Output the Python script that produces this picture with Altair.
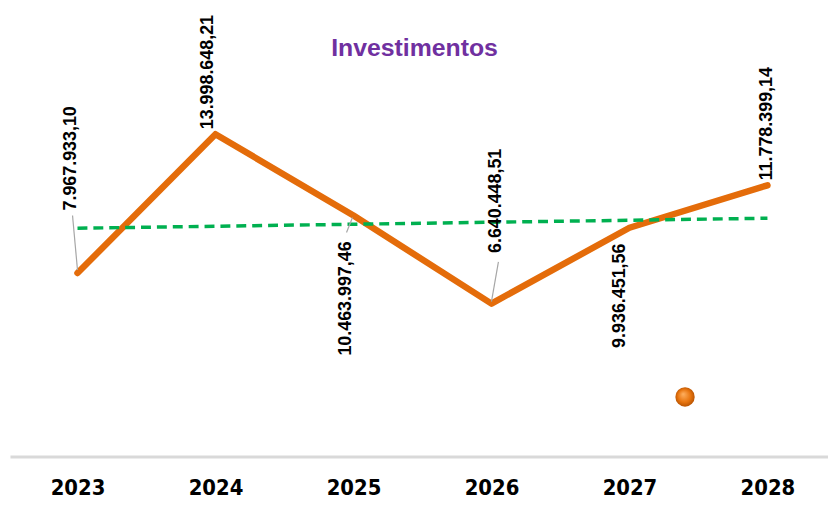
import altair as alt
import pandas as pd

# ---- data -------------------------------------------------------------
years = [2023, 2024, 2025, 2026, 2027, 2028]
values = [7967933.10, 13998648.21, 10463997.46, 6640448.51, 9936451.56, 11778399.14]
labels = ["7.967.933,10", "13.998.648,21", "10.463.997,46",
          "6.640.448,51", "9.936.451,56", "11.778.399,14"]
chart_title = "Investimentos"

df = pd.DataFrame({"year": years, "value": values, "label": labels})

# ---- layout / style -----------------------------------------------------
W, H = 824, 450
X_DOMAIN = [2022.5108, 2028.4388]
Y_DOMAIN = [0, 19400000]
PX_X = (X_DOMAIN[1] - X_DOMAIN[0]) / W       # years per pixel
PX_Y = (Y_DOMAIN[1] - Y_DOMAIN[0]) / H       # value per pixel

ORANGE = "#E46C0A"
GREEN = "#00B050"
PURPLE = "#7030A0"
LABEL_FONT = "Liberation Sans"
YEAR_FONT = "Liberation Sans Narrow, Arial Narrow, DejaVu Sans Condensed, Liberation Sans, sans-serif"

# label placement per year: (align, dx, dy) in the rotated text frame
label_style = {
    2023: ("left", 63, -6),
    2024: ("left", 5, -7),
    2025: ("right", -26, -7),
    2026: ("left", 51, 5),
    2027: ("right", -16, -9),
    2028: ("left", 5, 0),
}
# leader lines: (start dx, start dy, end dx, end dy) in screen pixels from point
leader_style = {
    2023: (0, -3, -5, -58),
    2025: (-1, 2, -7, 17),
    2026: (0, -2, 7, -42),
}

xs = alt.Scale(domain=X_DOMAIN, nice=False, zero=False)
ys = alt.Scale(domain=Y_DOMAIN, nice=False, zero=False)

base = alt.Chart(df)

line = base.mark_line(color=ORANGE, strokeWidth=6.5, strokeCap="round",
                      strokeJoin="round").encode(
    x=alt.X("year:Q", scale=xs,
            axis=alt.Axis(values=years, format="d", title=None, grid=False,
                          ticks=False, domainColor="#D9D9D9", domainWidth=3,
                          labelFont=YEAR_FONT,
                          labelFontWeight="bold", labelFontSize=22,
                          labelColor="#000000", labelPadding=21)),
    y=alt.Y("value:Q", scale=ys, axis=None),
)

trend = base.transform_regression("year", "value").mark_line(
    color=GREEN, strokeWidth=3.5, strokeDash=[10, 6]).encode(
    x=alt.X("year:Q", scale=xs),
    y=alt.Y("value:Q", scale=ys),
)

leaders = []
for yr, (sx, sy, ex, ey) in leader_style.items():
    leaders.append(
        base.transform_filter(alt.datum.year == yr).transform_calculate(
            x1=f"datum.year + {sx * PX_X}",
            y1=f"datum.value - {sy * PX_Y}",
            x2=f"datum.year + {ex * PX_X}",
            y2=f"datum.value - {ey * PX_Y}",
        ).mark_rule(color="#A6A6A6", strokeWidth=1.2).encode(
            x=alt.X("x1:Q", scale=xs), y=alt.Y("y1:Q", scale=ys),
            x2="x2:Q", y2="y2:Q",
        )
    )

texts = []
for yr, (al, dx, dy) in label_style.items():
    texts.append(
        base.transform_filter(alt.datum.year == yr).mark_text(
            angle=270, align=al, baseline="middle", dx=dx, dy=dy,
            font=LABEL_FONT, fontWeight="bold", fontSize=18, color="#000000",
        ).encode(
            x=alt.X("year:Q", scale=xs), y=alt.Y("value:Q", scale=ys),
            text="label:N",
        )
    )

title = alt.Chart(alt.Data(values=[{"t": chart_title}])).mark_text(
    font=LABEL_FONT, fontWeight="bold", fontSize=25, color=PURPLE,
    align="center", baseline="alphabetic",
).encode(x=alt.value(407.5), y=alt.value(47), text="t:N")

sphere = alt.Chart(alt.Data(values=[{"s": 1}])).mark_point(
    shape="circle", filled=True, size=380, opacity=1,
    fill={"gradient": "radial", "x1": 0.4, "y1": 0.35, "r1": 0,
          "x2": 0.5, "y2": 0.5, "r2": 0.55,
          "stops": [{"offset": 0, "color": "#FFB060"},
                    {"offset": 0.6, "color": "#E8750F"},
                    {"offset": 1, "color": "#B04E00"}]},
).encode(x=alt.value(680), y=alt.value(390))

chart = alt.layer(line, trend, *leaders, *texts, title, sphere).properties(
    width=W, height=H,
    padding={"left": 2, "top": 0, "right": 0, "bottom": 45},
    autosize="none",
    background="white",
).configure_view(stroke=None)

chart.save("out.html", embed_options={"renderer": "svg", "actions": False})
